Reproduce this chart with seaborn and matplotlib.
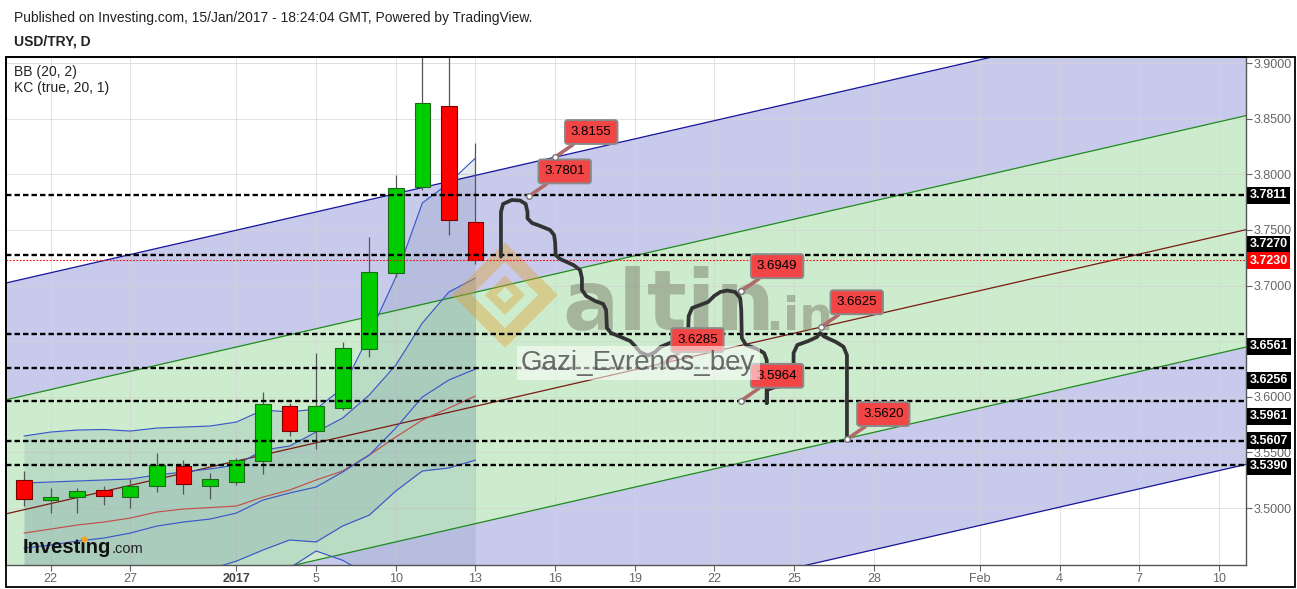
import numpy as np
import pandas as pd
import seaborn as sns
import matplotlib.pyplot as plt
from matplotlib.patches import Rectangle

# ---- daily candles, bar 0 = 21 Dec 2016 ... bar 17 = 13 Jan 2017 ----
opens  = [3.5252, 3.5069, 3.5096, 3.5159, 3.5096, 3.5195, 3.5378, 3.5195, 3.5231,
          3.5420, 3.5914, 3.5695, 3.5896, 3.6428, 3.7110, 3.7883, 3.8611, 3.7568]
highs  = [3.5335, 3.5180, 3.5180, 3.5198, 3.5261, 3.5494, 3.5432, 3.5312, 3.5447,
          3.6043, 3.5941, 3.6391, 3.6495, 3.7433, 3.7993, 3.9500, 3.9400, 3.8278]
lows   = [3.5018, 3.4958, 3.4958, 3.5030, 3.4997, 3.5147, 3.5126, 3.5078, 3.5205,
          3.5308, 3.5647, 3.5528, 3.5880, 3.6360, 3.7080, 3.7858, 3.7454, 3.7190]
closes = [3.5078, 3.5099, 3.5150, 3.5105, 3.5198, 3.5384, 3.5213, 3.5261, 3.5429,
          3.5932, 3.5695, 3.5914, 3.6436, 3.7118, 3.7874, 3.8638, 3.7586, 3.7230]

# ---- BB (20, 2) ----
bb_upper = [3.5647, 3.5683, 3.5701, 3.5706, 3.5692, 3.5719, 3.5728, 3.5737, 3.5773,
            3.5881, 3.5863, 3.5890, 3.6079, 3.6555, 3.7076, 3.7742, 3.7921, 3.8146]
bb_basis = [3.4775, 3.4811, 3.4847, 3.4874, 3.4910, 3.4964, 3.4991, 3.5004, 3.5018,
            3.5099, 3.5162, 3.5252, 3.5333, 3.5476, 3.5638, 3.5791, 3.5899, 3.6007]
bb_lower = [3.3903, 3.3939, 3.3993, 3.4042, 3.4128, 3.4209, 3.4254, 3.4271, 3.4263,
            3.4317, 3.4461, 3.4614, 3.4530, 3.4397, 3.4200, 3.3840, 3.3877, 3.3868]

# ---- KC (true, 20, 1) ----
kc_upper = [3.5225, 3.5234, 3.5243, 3.5252, 3.5261, 3.5297, 3.5324, 3.5351, 3.5387,
            3.5521, 3.5557, 3.5683, 3.5809, 3.6016, 3.6285, 3.6663, 3.6942, 3.7067]
kc_basis = [3.4640, 3.4667, 3.4703, 3.4730, 3.4775, 3.4838, 3.4874, 3.4901, 3.4955,
            3.5072, 3.5135, 3.5189, 3.5324, 3.5476, 3.5719, 3.5998, 3.6151, 3.6249]
kc_lower = [3.4055, 3.4100, 3.4163, 3.4208, 3.4289, 3.4379, 3.4424, 3.4451, 3.4523,
            3.4623, 3.4713, 3.4695, 3.4839, 3.4936, 3.5153, 3.5333, 3.5360, 3.5431]

# ---- rising channel (middle line anchors + band offsets) ----
channel_x = [0, 46]
channel_mid = [3.4985, 3.7501]
channel_offsets = [0.2075, 0.1025, -0.1055, -0.2110]

# ---- horizontal levels ----
levels = [3.7811, 3.7270, 3.6561, 3.6256, 3.5961, 3.5607, 3.5390]
last_price = 3.7230

# ---- price notes ----
note_x = [20, 19, 27, 30, 24, 27, 31]
note_y = [3.8155, 3.7801, 3.6949, 3.6625, 3.6285, 3.5964, 3.5620]

# ---- hand drawn projection path ----
path_x = [17.96, 17.96, 18.04, 18.37, 18.68, 18.89, 18.96, 18.96, 19.13, 19.44, 19.81,
          19.96, 20.0, 20.02, 20.19, 20.69, 20.94, 21.01, 21.01, 21.17, 21.51, 21.81,
          21.92, 21.95, 22.11, 22.45, 22.83, 23.01, 23.2, 23.5, 23.77, 23.96, 24.44,
          24.86, 25.01, 25.03, 25.16, 25.46, 25.76, 25.99, 26.22, 26.48, 26.78, 26.97,
          27.01, 27.03, 27.19, 27.61, 27.87, 27.97, 27.97, 27.97, 28.29, 28.81, 28.98,
          28.98, 29.12, 29.53, 29.86, 29.98, 30.13, 30.58, 30.86, 30.99, 30.99]
path_y = [3.7259, 3.7661, 3.7733, 3.7769, 3.7764, 3.7733, 3.7661, 3.7604, 3.7562, 3.7535,
          3.7499, 3.7454, 3.7391, 3.7274, 3.7238, 3.7184, 3.7139, 3.7067, 3.6960, 3.6906,
          3.6861, 3.6834, 3.6780, 3.6618, 3.6573, 3.6540, 3.6501, 3.6456, 3.6402, 3.6371,
          3.6402, 3.6447, 3.6495, 3.6533, 3.6600, 3.6726, 3.6798, 3.6825, 3.6852, 3.6906,
          3.6942, 3.6955, 3.6942, 3.6888, 3.6780, 3.6528, 3.6465, 3.6430, 3.6393, 3.6330,
          3.5944, 3.6061, 3.6088, 3.6106, 3.6169, 3.6393, 3.6465, 3.6501, 3.6537, 3.6573,
          3.6542, 3.6492, 3.6450, 3.6375, 3.5611]

# ---- axes ----
tick_pos = [1, 4, 8, 11, 14, 17, 20, 23, 26, 29, 32, 36, 39, 42, 45]
tick_lab = ['22', '27', '2017', '5', '10', '13', '16', '19', '22', '25', '28',
            'Feb', '4', '7', '10']
price_ticks = [3.50, 3.55, 3.60, 3.65, 3.70, 3.75, 3.80, 3.85, 3.90]
price_labels = ['3.5000', '3.5500', '3.6000', '', '3.7000', '3.7500', '3.8000',
                '3.8500', '3.9000']

sns.set_theme(style='white')
plt.rcParams['font.family'] = ['Liberation Sans', 'DejaVu Sans']

W, H = 1297, 589
fig = plt.figure(figsize=(W / 100, H / 100), dpi=100)
ax = fig.add_axes([6 / W, 24 / H, 1239.5 / W, 508 / H])
ax.set_xlim(-0.68, 46.0)
ax.set_ylim(3.4488, 3.9054)

# channel
cx = np.array([-2.0, 48.0])
slope = (channel_mid[1] - channel_mid[0]) / (channel_x[1] - channel_x[0])
mid = channel_mid[0] + slope * (cx - channel_x[0])
uo, ui, li, lo = [mid + off for off in channel_offsets]
lav, grn = '#c8caeb', '#cdeccd'
ax.fill_between(cx, ui, uo, color=lav, lw=0, zorder=0.2)
ax.fill_between(cx, li, ui, color=grn, lw=0, zorder=0.2)
ax.fill_between(cx, lo, li, color=lav, lw=0, zorder=0.2)
ax.plot(cx, uo, color='#14149a', lw=0.9, zorder=2)
ax.plot(cx, lo, color='#14149a', lw=0.9, zorder=2)
ax.plot(cx, ui, color='#1e8a1e', lw=0.9, zorder=2)
ax.plot(cx, li, color='#1e8a1e', lw=0.9, zorder=2)
ax.plot(cx, mid, color='#7a1a10', lw=0.9, zorder=2)

ax.set_axisbelow(True)
ax.grid(True, color='#d4d4d4', lw=0.6, alpha=0.8)

# BB / KC fills and lines
bars = np.arange(len(opens))
ax.fill_between(bars, bb_lower, bb_upper, color='#3f6a8a', alpha=0.13, lw=0, zorder=1)
ax.fill_between(bars, kc_lower, kc_upper, color='#3f6a8a', alpha=0.13, lw=0, zorder=1)

ind = pd.DataFrame({
    'bar': np.tile(bars, 6),
    'value': bb_upper + bb_basis + bb_lower + kc_upper + kc_basis + kc_lower,
    'line': np.repeat(['bb_up', 'bb_mid', 'bb_lo', 'kc_up', 'kc_mid', 'kc_lo'], len(bars)),
})
pal = {'bb_up': '#3b58c8', 'bb_mid': '#c0504d', 'bb_lo': '#3b58c8',
       'kc_up': '#3b58c8', 'kc_mid': '#3b58c8', 'kc_lo': '#3b58c8'}
sns.lineplot(data=ind, x='bar', y='value', hue='line', palette=pal, estimator=None,
             legend=False, linewidth=0.85, ax=ax, zorder=2.5)

# candles
for i in bars:
    o, h, l, c = opens[i], highs[i], lows[i], closes[i]
    up = c >= o
    ax.vlines(i, l, h, color='#555555', lw=0.9, zorder=3)
    ax.bar(i, abs(c - o), bottom=min(o, c), width=0.59,
           color='#00cc00' if up else '#ff0000',
           edgecolor='#1b6b1b' if up else '#7a0000', lw=0.8, zorder=4)

# altin.in watermark sits under the drawings
ax.plot([0.4026], [0.5315], marker='D', ms=44, mfc='none', mec='#e0a030', mew=10,
        alpha=0.4, transform=ax.transAxes, zorder=4.5)
ax.plot([0.4026], [0.5315], marker='D', ms=14, mfc='none', mec='#e0a030', mew=6,
        alpha=0.4, transform=ax.transAxes, zorder=4.5)
ax.text(0.4486, 0.4626, 'altin', transform=ax.transAxes, fontsize=60, fontweight='bold',
        family='DejaVu Sans', color='#7d7f6a', alpha=0.5, va='baseline', zorder=4.5)
ax.text(0.6125, 0.4626, '.in', transform=ax.transAxes, fontsize=34, fontweight='bold',
        family='DejaVu Sans', color='#7d7f6a', alpha=0.5, va='baseline', zorder=4.5)

# levels
for lvl in levels:
    ax.axhline(lvl, color='black', lw=1.7, ls=(0, (2.3, 1.3)), zorder=5)
ax.axhline(last_price, color='#ff0000', lw=0.8, ls=(0, (1.5, 1.5)), zorder=5)

# projection path
sns.lineplot(x=path_x, y=path_y, sort=False, estimator=None, color='#333333',
             lw=2.7, ax=ax, zorder=6, solid_joinstyle='round', solid_capstyle='round')

# notes
for x, y in zip(note_x, note_y):
    ax.annotate(f'{y:.4f}', xy=(x, y), xytext=(26, 18), textcoords='offset points',
                ha='center', va='center', fontsize=9.5, color='black', zorder=7,
                bbox=dict(boxstyle='round,pad=0.45,rounding_size=0.2', fc='#f24545',
                          ec='#8a8a8a', lw=1.4),
                arrowprops=dict(arrowstyle='-', color='#b06a6a', lw=2.6,
                                shrinkA=0, shrinkB=2))
ax.scatter(note_x, note_y, s=16, facecolor='white', edgecolor='#777777', lw=1, zorder=8)

# author tag and Investing logo on top
ax.text(0.4155, 0.3839, 'Gazi_Evrenos_bey', transform=ax.transAxes, fontsize=20,
        color='#555555', alpha=0.85, va='baseline', zorder=10,
        bbox=dict(boxstyle='square,pad=0.15', fc='white', ec='none', alpha=0.55))
ax.text(0.0137, 0.0236, 'Investing', transform=ax.transAxes, fontsize=14.5,
        fontweight='bold', color='#111111', va='baseline', zorder=10)
ax.text(0.0855, 0.0236, '.com', transform=ax.transAxes, fontsize=10.5,
        color='#222222', va='baseline', zorder=10)
ax.plot([0.0629], [0.0512], 'o', color='#f5a623', ms=3.5, transform=ax.transAxes,
        zorder=11)

# right price axis
ax.yaxis.tick_right()
ax.set_yticks(price_ticks)
ax.set_yticklabels(price_labels)
ax.tick_params(axis='y', length=4, width=0.8, color='#666666', labelcolor='#666666',
               labelsize=9, pad=2, right=True, left=False)
# vertical nudges (points) so the value tags do not collide, as on the chart
label_nudge = [0, 8, -8.5, -8.5, -11, 0, -1]
for lvl, dy in zip(levels, label_nudge):
    ax.annotate(f'{lvl:.4f}', xy=(1, lvl), xycoords=('axes fraction', 'data'),
                xytext=(3, dy), textcoords='offset points', ha='left', va='center',
                color='white', fontsize=9, fontweight='bold', annotation_clip=False,
                bbox=dict(boxstyle='square,pad=0.2', fc='black', ec='none'), zorder=11)
ax.annotate(f'{last_price:.4f}', xy=(1, last_price), xycoords=('axes fraction', 'data'),
            xytext=(3, -0.5), textcoords='offset points', ha='left', va='center',
            color='white', fontsize=9, fontweight='bold', annotation_clip=False,
            bbox=dict(boxstyle='square,pad=0.2', fc='#ff0000', ec='none'), zorder=11)

# date axis
ax.set_xticks(tick_pos)
ax.set_xticklabels(tick_lab)
ax.tick_params(axis='x', length=4, width=0.8, color='#666666', labelcolor='#666666',
               labelsize=9, pad=2, bottom=True)
for t in ax.get_xticklabels():
    if t.get_text() == '2017':
        t.set_fontweight('bold')
        t.set_color('#444444')
ax.set_xlabel('')
ax.set_ylabel('')

for side in ['top', 'left']:
    ax.spines[side].set_color('black')
    ax.spines[side].set_linewidth(1.2)
for side in ['right', 'bottom']:
    ax.spines[side].set_color('#555555')
    ax.spines[side].set_linewidth(1.0)

# indicator names and header
fig.text(14 / W, 1 - 72 / H, 'BB (20, 2)', fontsize=10, color='#222222', va='center')
fig.text(14 / W, 1 - 88 / H, 'KC (true, 20, 1)', fontsize=10, color='#222222', va='center')
fig.text(14 / W, 1 - 18 / H,
         'Published on Investing.com, 15/Jan/2017 - 18:24:04 GMT, Powered by TradingView.',
         fontsize=10, color='#222222', va='center')
fig.text(14 / W, 1 - 42 / H, 'USD/TRY, D', fontsize=10, fontweight='bold',
         color='#222222', va='center')

fig.add_artist(Rectangle((6 / W, 2 / H), 1289 / W, 530 / H, fill=False, ec='black',
                         lw=1.3, transform=fig.transFigure))

fig.savefig('out.png', dpi=100)
